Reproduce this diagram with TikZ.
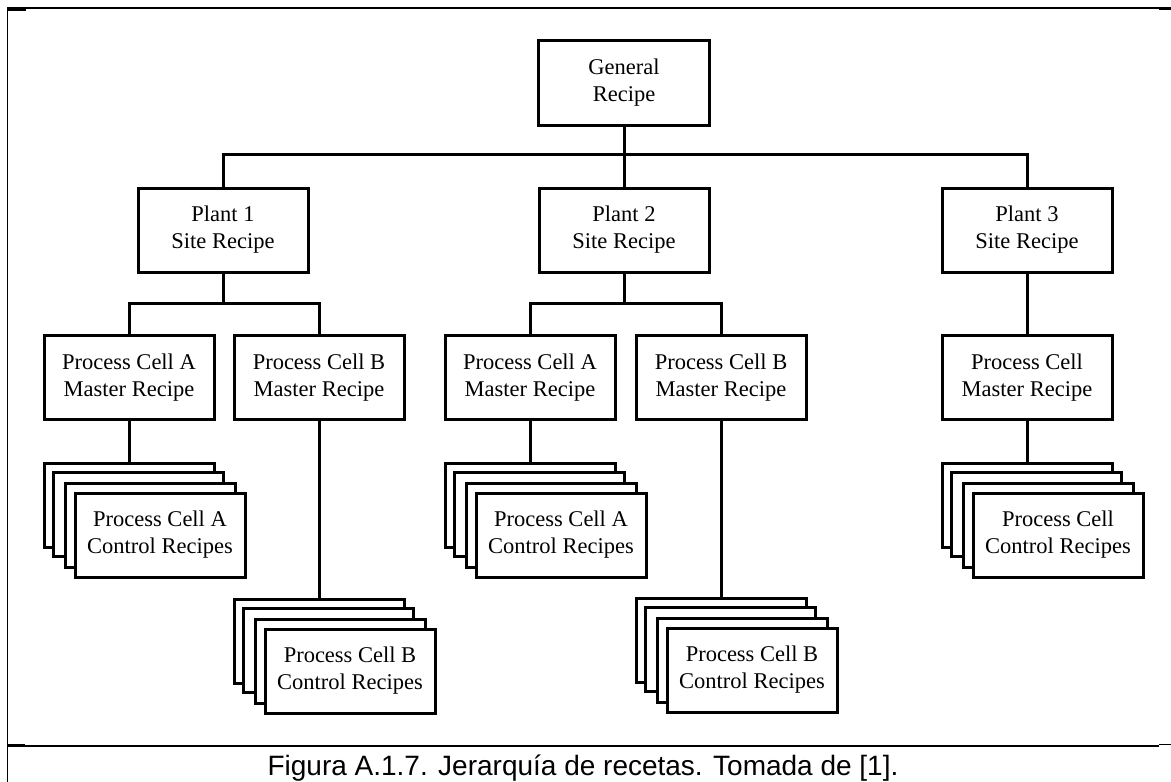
\documentclass[tikz,border=0pt]{standalone}
\usepackage{fontspec}
\setmainfont{Liberation Serif}
\newfontfamily\captionfont{Liberation Sans}

\tikzset{
  recipe/.style={draw, black, line width=3pt, fill=white, minimum width=170pt, minimum height=84pt, inner sep=0pt, align=center, font=\fontsize{22.5}{27}\selectfont},
  link/.style={black, line width=3pt},
  frameline/.style={black, line width=1.5pt},
}

\begin{document}
\begin{tikzpicture}[x=1pt,y=-1pt]
			\useasboundingbox (0,0) rectangle (1171,782);
			% page frame
			\draw[frameline] (7.5,782) -- (7.5,8) -- (1171,8);
			\draw[frameline] (7.5,746) -- (1159,746);
			\draw[frameline] (7.5,9.8) -- (26,9.8);
			\draw[frameline] (1159,9.5) -- (1171,9.5);
			\draw[frameline] (7.5,744.5) -- (25,744.5);
			\draw[frameline] (1159,744.5) -- (1171,744.5);
			
			% top levels
			\node[recipe, minimum width=171pt, minimum height=85pt] (gen) at (624,82.5) {General\\Recipe};
			\node[recipe] (plant1) at (223,230) {Plant 1\\Site Recipe};
			\node[recipe] (plant2) at (624,230) {Plant 2\\Site Recipe};
			\node[recipe] (plant3) at (1027,230) {Plant 3\\Site Recipe};
			\coordinate (bus) at (624,154);
			\draw[link] (gen) -- (plant2);
			\draw[link] (plant1.north) |- (bus) -| (plant3.north);
			
			% master recipes
			\node[recipe] (p1a) at (129,377.5) {Process Cell A\\Master Recipe};
			\node[recipe] (p1b) at (319,377.5) {Process Cell B\\Master Recipe};
			\node[recipe] (p2a) at (530,377.5) {Process Cell A\\Master Recipe};
			\node[recipe] (p2b) at (721,377.5) {Process Cell B\\Master Recipe};
			\node[recipe] (p3) at (1027,377.5) {Process Cell\\Master Recipe};
			\coordinate (bus1) at (223,303);
			\coordinate (bus2) at (624,303);
			\draw[link] (plant1) -- (bus1);
			\draw[link] (p1a.north) |- (bus1) -| (p1b.north);
			\draw[link] (plant2) -- (bus2);
			\draw[link] (p2a.north) |- (bus2) -| (p2b.north);
			\draw[link] (plant3) -- (p3);
			
			% control recipes, plant 1
			\node[recipe] (p1a-s1) at (129,505) {};
			\node[recipe] (p1a-s2) at (138,514) {};
			\node[recipe] (p1a-s3) at (150,525) {};
			\node[recipe] (p1a-ctl) at (160,535) {Process Cell A\\Control Recipes};
			\draw[link] (p1a) -- (p1a-s1);
			\node[recipe] (p1b-s1) at (319,641) {};
			\node[recipe] (p1b-s2) at (328,650) {};
			\node[recipe] (p1b-s3) at (340,661) {};
			\node[recipe] (p1b-ctl) at (350,671) {Process Cell B\\Control Recipes};
			\draw[link] (p1b) -- (p1b-s1);
			
			% control recipes, plant 2
			\node[recipe] (p2a-s1) at (530,505) {};
			\node[recipe] (p2a-s2) at (539,514) {};
			\node[recipe] (p2a-s3) at (551,525) {};
			\node[recipe] (p2a-ctl) at (561,535) {Process Cell A\\Control Recipes};
			\draw[link] (p2a) -- (p2a-s1);
			\node[recipe] (p2b-s1) at (721,640) {};
			\node[recipe] (p2b-s2) at (730,649) {};
			\node[recipe] (p2b-s3) at (742,660) {};
			\node[recipe] (p2b-ctl) at (752,670) {Process Cell B\\Control Recipes};
			\draw[link] (p2b) -- (p2b-s1);
			
			% control recipes, plant 3
			\node[recipe] (p3-s1) at (1027,505) {};
			\node[recipe] (p3-s2) at (1036,514) {};
			\node[recipe] (p3-s3) at (1048,525) {};
			\node[recipe] (p3-ctl) at (1058,535) {Process Cell\\Control Recipes};
			\draw[link] (p3) -- (p3-s1);
			
			\node[anchor=base, inner sep=0pt, font=\captionfont\fontsize{28}{34}\selectfont] (caption) at (583,775) {Figura A.1.7. Jerarquía de recetas. Tomada de [1].};
			
			\end{tikzpicture}
\end{document}
